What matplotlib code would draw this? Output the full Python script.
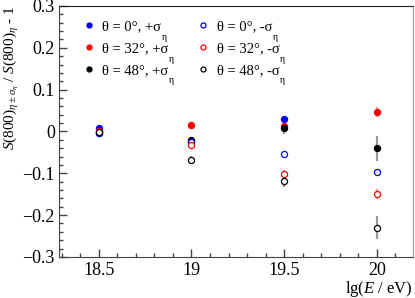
import numpy as np
import matplotlib
matplotlib.use('Agg')
import matplotlib.pyplot as plt
from matplotlib.lines import Line2D
from matplotlib.ticker import MultipleLocator, FuncFormatter

plt.rcParams['font.family'] = ['Liberation Serif', 'DejaVu Serif']
plt.rcParams['mathtext.fontset'] = 'custom'
plt.rcParams['mathtext.rm'] = 'Liberation Serif'
plt.rcParams['mathtext.it'] = 'Liberation Serif:italic'
plt.rcParams['mathtext.sf'] = 'Liberation Serif'

# === Data ===
lgE = [18.5, 19.0, 19.5, 20.0]

# +sigma_eta (filled)
plus_0 = [0.008, -0.025, 0.030, np.nan]
plus_32 = [0.002, 0.015, 0.014, 0.046]
plus_48 = [-0.003, -0.021, 0.007, -0.040]
err_plus_0 = [0.002, 0.003, 0.004, 0.0]
err_plus_32 = [0.002, 0.003, 0.006, 0.012]
err_plus_48 = [0.003, 0.004, 0.012, 0.030]

# -sigma_eta (open)
minus_0 = [-0.003, -0.026, -0.054, -0.096]
minus_32 = [0.000, -0.032, -0.102, -0.150]
minus_48 = [-0.002, -0.069, -0.118, -0.230]
err_minus_0 = [0.002, 0.003, 0.004, 0.005]
err_minus_32 = [0.002, 0.004, 0.010, 0.012]
err_minus_48 = [0.003, 0.010, 0.014, 0.028]

labels = ['\u03b8 = 0\u00b0, +\u03c3', '\u03b8 = 32\u00b0, +\u03c3', '\u03b8 = 48\u00b0, +\u03c3',
          '\u03b8 = 0\u00b0, -\u03c3', '\u03b8 = 32\u00b0, -\u03c3', '\u03b8 = 48\u00b0, -\u03c3']

colors = {'0': '#0000ff', '32': '#ff0000', '48': '#000000'}
err_colors = {'0': '#9999ff', '32': '#ff9999', '48': '#999999'}

# === Plot ===
fig = plt.figure(figsize=(4.15, 2.98), dpi=100)
ax = fig.add_axes([0.142, 0.138, 0.853, 0.842])

series = [
    (plus_0, err_plus_0, '0', True),
    (plus_32, err_plus_32, '32', True),
    (plus_48, err_plus_48, '48', True),
    (minus_0, err_minus_0, '0', False),
    (minus_32, err_minus_32, '32', False),
    (minus_48, err_minus_48, '48', False),
]

handles = []
for vals, errs, th, filled in series:
    c = colors[th]
    ax.errorbar(lgE, vals, yerr=errs, fmt='none', ecolor=err_colors[th],
                elinewidth=1.6, capsize=0, zorder=2)
    ax.plot(lgE, vals, 'o', ms=4.4, mec=c, mfc=c if filled else 'white',
            mew=0.9, linestyle='none', zorder=3)
    handles.append(Line2D([], [], marker='o', ms=3.6, mec=c,
                          mfc=c if filled else 'white', mew=0.9, linestyle='none'))

ax.set_xlim(18.285, 20.195)
ax.set_ylim(-0.3, 0.3)

ax.xaxis.set_major_locator(MultipleLocator(0.5))
ax.xaxis.set_minor_locator(MultipleLocator(0.1))
ax.yaxis.set_major_locator(MultipleLocator(0.1))
ax.yaxis.set_minor_locator(MultipleLocator(0.02))
ax.xaxis.set_major_formatter(FuncFormatter(lambda v, p: '{:g}'.format(round(v, 2))))
ax.yaxis.set_major_formatter(
    FuncFormatter(lambda v, p: '{:g}'.format(round(v, 2) + 0.0).replace('-', '\u2212')))

ax.tick_params(which='both', direction='in', top=False, right=False,
               colors='#444444', labelcolor='black', labelsize=13)
ax.tick_params(axis='x', which='both', pad=4)
ax.tick_params(axis='y', which='both', pad=3)
ax.tick_params(which='major', length=5.5, width=1)
ax.tick_params(which='minor', length=3, width=1)

for side in ['left', 'bottom']:
    ax.spines[side].set_color('#444444')
ax.spines['top'].set_color('#222222')
ax.spines['right'].set_color('#999999')

ax.set_xlabel('lg($E$ / eV)', fontsize=12, loc='right')
ax.xaxis.set_label_coords(1.0, -0.088)
ax.set_ylabel('$S$(800)$_{\\eta\\pm\\sigma_{\\eta}}$ / $S$(800)$_{\\eta}$ - 1',
              fontsize=11, loc='top')
ax.yaxis.set_label_coords(-0.108, 1.0)

leg = ax.legend(handles=handles, labels=labels, ncol=2, frameon=False,
                loc='upper left', bbox_to_anchor=(0.03, 0.995),
                fontsize=10.5, handlelength=0.8, handletextpad=0.55,
                columnspacing=1.95, labelspacing=0.6)

# sigma subscripts drawn below, ROOT style
fig.canvas.draw()
W, H = fig.canvas.get_width_height()
for t in leg.get_texts():
    bb = t.get_window_extent()
    cy = (bb.y0 + bb.y1) / 2
    fig.text((bb.x1 + 0.5) / W, (cy - 10) / H, '\u03b7', fontsize=7,
             ha='left', va='center')

fig.savefig('out.png', dpi=100)
